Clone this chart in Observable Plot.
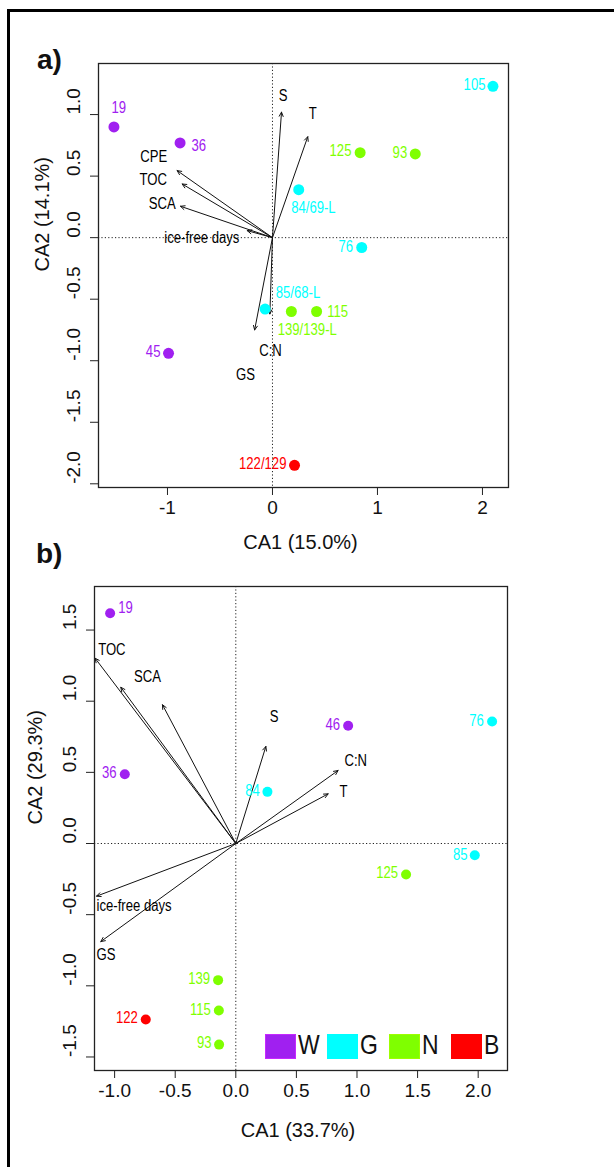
<!DOCTYPE html>
<html><head><meta charset="utf-8">
<script src="https://cdn.jsdelivr.net/npm/d3@7"></script>
<script src="https://cdn.jsdelivr.net/npm/@observablehq/plot@0.6"></script>
<style>
body{margin:0;background:#fff;}
#page{position:relative;width:614px;height:1167px;overflow:hidden;font-family:'Liberation Sans',Arial,sans-serif;background:#fff;}
.abs{position:absolute;}
</style></head><body><div id="page"></div>
<script>
// ---------- data ----------
const groups = ["W", "G", "N", "B"];
const groupColors = ["#a020f0", "#00ffff", "#7fff00", "#ff0000"];

// panel a: sites
const aSite = ["19", "36", "105", "125", "93", "84/69-L", "76", "85/68-L", "139/139-L", "115", "45", "122/129"];
const aGroup = ["W", "W", "G", "N", "N", "G", "G", "G", "N", "N", "W", "B"];
const aCA1 = [-1.51, -0.88, 2.10, 0.835, 1.36, 0.25, 0.85, -0.07, 0.18, 0.42, -0.99, 0.21];
const aCA2 = [0.90, 0.77, 1.23, 0.69, 0.68, 0.39, -0.08, -0.58, -0.60, -0.60, -0.94, -1.85];
const aLabX = [-1.464, -0.771, 2.029, 0.752, 1.283, 0.178, 0.768, 0.031, 0.05, 0.521, -1.067, 0.133];
const aLabY = [1.055, 0.748, 1.241, 0.705, 0.686, 0.246, -0.073, -0.45, -0.75, -0.599, -0.927, -1.835];
const aLabAnchor = ["middle", "start", "end", "end", "end", "start", "end", "start", "start", "start", "end", "end"];
// panel a: environmental vectors
const aVar = ["S", "T", "CPE", "TOC", "SCA", "ice-free days", "C:N", "GS"];
const aVarX = [0.086, 0.336, -0.908, -0.86, -0.876, -0.24, -0.025, -0.17];
const aVarY = [1.02, 0.82, 0.545, 0.436, 0.255, 0.057, -0.62, -0.75];
const aVarLabX = [0.102, 0.384, -1.13, -1.136, -1.05, -0.673, -0.019, -0.257];
const aVarLabY = [1.149, 1.006, 0.653, 0.472, 0.274, 0.0, -0.919, -1.114];
const aXTicks = [-1, 0, 1, 2];
const aYTicks = [-2, -1.5, -1, -0.5, 0, 0.5, 1];

// panel b: sites
const bSite = ["19", "36", "46", "76", "84", "85", "125", "139", "115", "93", "122"];
const bGroup = ["W", "W", "W", "G", "G", "G", "N", "N", "N", "N", "B"];
const bCA1 = [-1.037, -0.916, 0.927, 2.115, 0.261, 1.972, 1.405, -0.146, -0.14, -0.138, -0.743];
const bCA2 = [1.618, 0.487, 0.827, 0.857, 0.363, -0.082, -0.218, -0.96, -1.174, -1.413, -1.237];
const bLabX = [-0.971, -0.984, 0.861, 2.046, 0.198, 1.912, 1.339, -0.212, -0.206, -0.2, -0.809];
const bLabY = [1.654, 0.497, 0.836, 0.864, 0.372, -0.077, -0.209, -0.951, -1.167, -1.403, -1.228];
const bLabAnchor = ["start", "end", "end", "end", "end", "end", "end", "end", "end", "end", "end"];
// panel b: environmental vectors
const bVar = ["TOC", "SCA", "CPE", "S", "C:N", "T", "ice-free days", "GS"];
const bVarLabel = ["TOC", "SCA", "", "S", "C:N", "T", "ice-free days", "GS"];
const bVarX = [-1.161, -0.949, -0.605, 0.248, 0.844, 0.762, -1.149, -1.114];
const bVarY = [1.302, 1.098, 0.975, 0.682, 0.513, 0.349, -0.37, -0.689];
const bVarLabX = [-1.136, -0.729, -0.605, 0.316, 0.99, 0.889, -1.149, -1.149];
const bVarLabY = [1.363, 1.174, 0.975, 0.888, 0.578, 0.36, -0.441, -0.78];
const bVarLabAnchor = ["start", "middle", "middle", "middle", "middle", "middle", "start", "start"];
const bXTicks = [-1, -0.5, 0, 0.5, 1, 1.5, 2];
const bYTicks = [-1.5, -1, -0.5, 0, 0.5, 1, 1.5];

// ---------- fonts ----------
const regFamily = "'Liberation Sans', Arial, sans-serif";
const NARROW = 0.82; // horizontal condensation of the narrow labels

const page = document.getElementById("page");

function condense(svg) {
  svg.querySelectorAll("g.narrow text").forEach(el => {
    const t = el.getAttribute("transform");
    if (t) {
      el.setAttribute("transform", `${t} scale(${NARROW},1)`);
    } else {
      const x = +(el.getAttribute("x") || 0);
      el.setAttribute("transform", `translate(${x * (1 - NARROW)},0) scale(${NARROW},1)`);
    }
  });
}

function panel(cfg) {
  const sites = cfg.site.map((s, i) => ({site: s, group: cfg.group[i], x: cfg.x[i], y: cfg.y[i],
    lx: cfg.labX[i], ly: cfg.labY[i], anchor: cfg.labAnchor[i]}));
  const vars = cfg.vName.map((v, i) => ({name: v, label: cfg.vLabel[i], x: cfg.vX[i], y: cfg.vY[i],
    lx: cfg.vLabX[i], ly: cfg.vLabY[i], anchor: cfg.vAnchor[i]}));
  const nf = 16;
  const labelMarks = ["start", "middle", "end"].map(a => Plot.text(sites.filter(d => d.anchor === a), {
    x: "lx", y: "ly", text: "site", fill: "group", textAnchor: a, fontSize: nf, className: "narrow"
  }));
  const varMarks = ["start", "middle", "end"].map(a => Plot.text(vars.filter(d => d.anchor === a && d.label), {
    x: "lx", y: "ly", text: "label", fill: "black", textAnchor: a, fontSize: nf, className: "narrow"
  }));
  const svg = Plot.plot({
    width: 614, height: cfg.height,
    marginLeft: cfg.ml, marginRight: cfg.mr, marginTop: cfg.mt, marginBottom: cfg.mb,
    x: {domain: cfg.xDomain},
    y: {domain: cfg.yDomain},
    color: {domain: groups, range: groupColors},
    style: {fontFamily: regFamily, background: "transparent", overflow: "visible"},
    marks: [
      Plot.ruleX([0], {stroke: "#222", strokeWidth: 1, strokeDasharray: "1.2,2.2"}),
      Plot.ruleY([0], {stroke: "#222", strokeWidth: 1, strokeDasharray: "1.2,2.2"}),
      Plot.arrow(vars, {x1: () => 0, y1: () => 0, x2: "x", y2: "y", stroke: "#111", strokeWidth: 1,
        headLength: 7, headAngle: 50}),
      ...varMarks,
      Plot.dot(sites, {x: "x", y: "y", fill: "group", r: cfg.r}),
      ...labelMarks,
      Plot.frame({stroke: "#222", strokeWidth: 1.3}),
      Plot.axisX({ticks: cfg.xTicks, tickSize: 8, tickFormat: () => "", stroke: "#222", label: null}),
      Plot.axisY({ticks: cfg.yTicks, tickSize: 8, tickFormat: () => "", stroke: "#222", label: null}),
      Plot.text(cfg.xTicks, {x: d => d, text: cfg.xFmt, frameAnchor: "bottom", dy: 26, fontSize: 19, fill: "#111"}),
      Plot.text(cfg.yTicks, {y: d => d, text: cfg.yFmt, frameAnchor: "left", dx: -25, rotate: -90, fontSize: 19, fill: "#111"}),
      Plot.text([cfg.xTitle], {frameAnchor: "bottom", dy: cfg.xTitleDy, dx: -3, fontSize: 20, fill: "#111"}),
      Plot.text([cfg.yTitle], {frameAnchor: "left", dx: cfg.yTitleDx, dy: -4, rotate: -90, fontSize: 20, fill: "#111"})
    ]
  });
  condense(svg);
  return svg;
}

const plotA = panel({
  site: aSite, group: aGroup, x: aCA1, y: aCA2, labX: aLabX, labY: aLabY, labAnchor: aLabAnchor,
  vName: aVar, vLabel: aVar, vX: aVarX, vY: aVarY, vLabX: aVarLabX, vLabY: aVarLabY,
  vAnchor: aVar.map(() => "middle"),
  xTicks: aXTicks, yTicks: aYTicks, xFmt: d => String(d), yFmt: d => d.toFixed(1),
  xDomain: [-1.657, 2.248], yDomain: [-2.03, 1.415],
  height: 565, ml: 98, mr: 106, mt: 63, mb: 78, r: 5.5,
  xTitle: "CA1 (15.0%)", yTitle: "CA2 (14.1%)", xTitleDy: 61, yTitleDx: -56
});
plotA.classList.add("abs"); plotA.style.left = "0px"; plotA.style.top = "0px";
page.appendChild(plotA);

const plotB = panel({
  site: bSite, group: bGroup, x: bCA1, y: bCA2, labX: bLabX, labY: bLabY, labAnchor: bLabAnchor,
  vName: bVar, vLabel: bVarLabel, vX: bVarX, vY: bVarY, vLabX: bVarLabX, vLabY: bVarLabY,
  vAnchor: bVarLabAnchor,
  xTicks: bXTicks, yTicks: bYTicks, xFmt: d => d.toFixed(1), yFmt: d => d.toFixed(1),
  xDomain: [-1.166, 2.242], yDomain: [-1.595, 1.806],
  height: 602, ml: 94, mr: 107, mt: 21, mb: 97, r: 5,
  xTitle: "CA1 (33.7%)", yTitle: "CA2 (29.3%)", xTitleDy: 66, yTitleDx: -59
});
plotB.classList.add("abs"); plotB.style.left = "0px"; plotB.style.top = "565px";
page.appendChild(plotB);

// panel letters
[["a)", 37, 44], ["b)", 36, 538]].forEach(([t, l, tp]) => {
  const d = document.createElement("div");
  d.className = "abs"; d.textContent = t;
  Object.assign(d.style, {left: l + "px", top: tp + "px", font: `bold 28px ${regFamily}`, color: "#111", lineHeight: "32px"});
  page.appendChild(d);
});

// legend
groups.forEach((g, i) => {
  const left = 265 + i * 62.1;
  const sq = document.createElement("div");
  sq.className = "abs";
  Object.assign(sq.style, {left: left + "px", top: "1034px", width: "29px", height: "23px",
    background: groupColors[i], border: "1px solid " + d3.color(groupColors[i]).brighter(0.6).formatHex()});
  page.appendChild(sq);
  const tx = document.createElement("div");
  tx.className = "abs"; tx.textContent = g;
  Object.assign(tx.style, {left: (left + 33) + "px", top: "1029px", fontFamily: regFamily,
    fontSize: "28px", lineHeight: "32px", color: "#111", transform: `scaleX(${NARROW})`, transformOrigin: "0 0"});
  page.appendChild(tx);
});

// outer frame
const fr = document.createElement("div");
fr.className = "abs";
Object.assign(fr.style, {left: "7px", top: "9px", width: "700px", height: "1300px",
  borderLeft: "3px solid #000", borderTop: "3px solid #000", pointerEvents: "none"});
page.appendChild(fr);
</script></body></html>
